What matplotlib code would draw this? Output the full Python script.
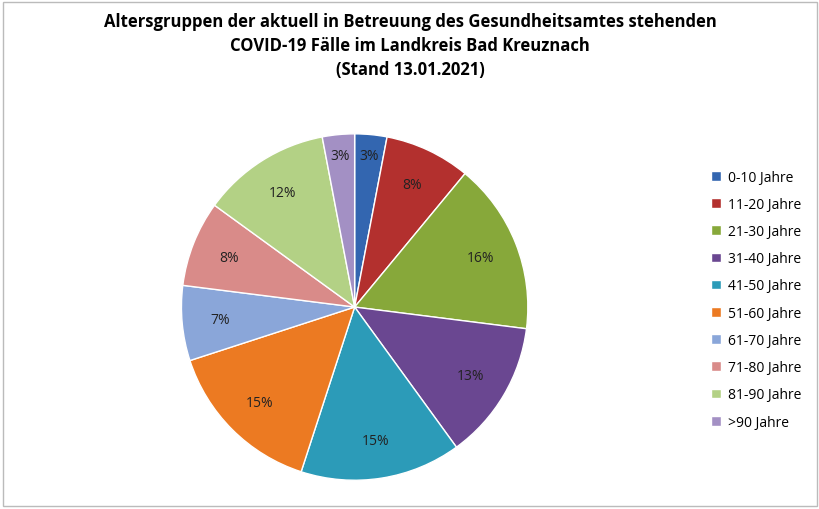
import matplotlib.pyplot as plt
from matplotlib.patches import Rectangle

labels = ["0-10 Jahre", "11-20 Jahre", "21-30 Jahre", "31-40 Jahre", "41-50 Jahre",
          "51-60 Jahre", "61-70 Jahre", "71-80 Jahre", "81-90 Jahre", ">90 Jahre"]
values = [3, 8, 16, 13, 15, 15, 7, 8, 12, 3]
colors = ["#3366B0", "#B3302E", "#87A83A", "#6A4791", "#2C9BB8",
          "#EC7A22", "#8AA6D9", "#D98B89", "#B3D185", "#A390C4"]

plt.rcParams["font.family"] = "Open Sans"
fig = plt.figure(figsize=(8.2, 5.1), dpi=100)
fig.patches.append(Rectangle((0.004, 0.006), 0.992, 0.988, transform=fig.transFigure,
                             fill=False, edgecolor="#BBBBBB", linewidth=1))

ax = fig.add_axes([0.219, 0.053, 0.427, 0.686])
wedges, texts = ax.pie(values, colors=colors, startangle=90, counterclock=False,
                       labels=[f"{v}%" for v in values], labeldistance=0.78,
                       wedgeprops=dict(edgecolor="white", linewidth=1),
                       textprops=dict(fontsize=10, color="#222222"))
for t in texts:
    t.set_ha("center")
    t.set_va("center")
# push the two small slices' labels further out
for i in (0, 9):
    x, y = texts[i].get_position()
    texts[i].set_position((x * 1.13, y * 1.13))
ax.set_xlim(-1.01, 1.01)
ax.set_ylim(-1.01, 1.01)
ax.set_aspect("equal")

fig.text(0.5, 0.975, "Altersgruppen der aktuell in Betreuung des Gesundheitsamtes stehenden\n"
         "COVID-19 Fälle im Landkreis Bad Kreuznach\n(Stand 13.01.2021)",
         ha="center", va="top", fontsize=12, fontweight="bold", linespacing=1.45)

fig.legend(wedges, labels, loc="upper left", bbox_to_anchor=(0.852, 0.69),
           frameon=False, fontsize=10, handlelength=0.7, handleheight=0.7,
           labelspacing=0.88, handletextpad=0.5)

fig.savefig("out.png", dpi=100)
